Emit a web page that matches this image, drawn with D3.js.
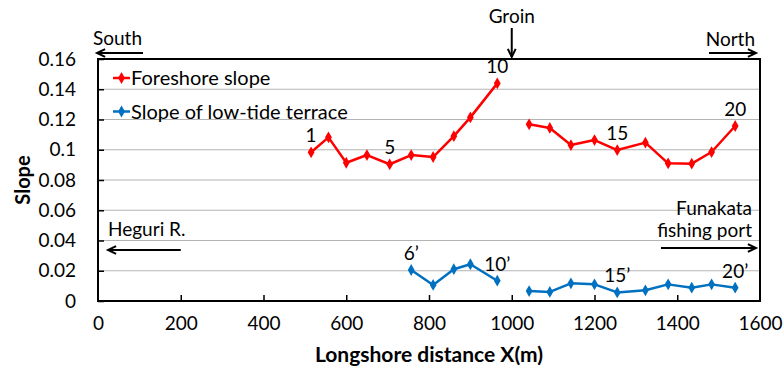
<!DOCTYPE html>
<html>
<head>
<meta charset="utf-8">
<script src="https://cdn.jsdelivr.net/npm/d3@7"></script>
<style>
  html, body { margin: 0; padding: 0; background: #fff; }
  svg { display: block; font-family: Lato, "Open Sans", sans-serif; }
</style>
</head>
<body>
<svg id="chart" width="784" height="370"></svg>
<script>
// Longshore positions of the survey stations (m)
const distance = [515, 557, 600, 650, 705, 757, 810, 860, 900, 965,
                  1042, 1092, 1143, 1200, 1255, 1323, 1378, 1435, 1483, 1540];
// Side of the groin each station lies on (line is broken at the groin)
const reach = [1, 1, 1, 1, 1, 1, 1, 1, 1, 1, 2, 2, 2, 2, 2, 2, 2, 2, 2, 2];
// Foreshore slope at each station
const foreshore = [0.0983, 0.1082, 0.0914, 0.0965, 0.0904, 0.0965, 0.0952, 0.1090, 0.1214, 0.1439,
                   0.1168, 0.1144, 0.1031, 0.1064, 0.0998, 0.1047, 0.0910, 0.0908, 0.0985, 0.1157];
// Slope of the low-tide terrace (not surveyed at stations 1-5)
const terrace = [null, null, null, null, null, 0.0205, 0.0106, 0.0210, 0.0243, 0.0134,
                 0.0066, 0.0060, 0.0117, 0.0110, 0.0057, 0.0071, 0.0110, 0.0088, 0.0110, 0.0088];
// Station numbers printed beside the lines
const foreshoreTags = ["1", "", "", "", "5", "", "", "", "", "10",
                       "", "", "", "", "15", "", "", "", "", "20"];
const terraceTags = ["", "", "", "", "", "6’", "", "", "", "10’",
                     "", "", "", "", "15’", "", "", "", "", "20’"];
// Axis ticks
const xTicks = [0, 200, 400, 600, 800, 1000, 1200, 1400, 1600];
const yTicks = [0, 0.02, 0.04, 0.06, 0.08, 0.1, 0.12, 0.14, 0.16];
const seriesNames = ["Foreshore slope", "Slope of low-tide terrace"];
const seriesColors = ["#FF0000", "#0070C0"];

const svg = d3.select("#chart");
const plotL = 98, plotR = 760, plotT = 59, plotB = 301;

const x = d3.scaleLinear().domain([0, 1600]).range([plotL, plotR]);
const y = d3.scaleLinear().domain([0, 0.16]).range([plotB, plotT]);

// horizontal gridlines
svg.append("g").selectAll("line").data(yTicks.slice(1)).join("line")
  .attr("x1", plotL).attr("x2", plotR)
  .attr("y1", d => y(d)).attr("y2", d => y(d))
  .attr("stroke", "#B4B4B4").attr("stroke-width", 1.2);

// axes with ticks pointing into the plot
const xAxis = svg.append("g").attr("transform", `translate(0,${plotB})`)
  .call(d3.axisBottom(x).tickValues(xTicks).tickSize(-6).tickPadding(16).tickFormat(d3.format("d")));
const yAxis = svg.append("g").attr("transform", `translate(${plotL},0)`)
  .call(d3.axisLeft(y).tickValues(yTicks).tickSize(-6).tickPadding(22).tickFormat(d => d === 0 ? "0" : String(+d.toFixed(2))));
[xAxis, yAxis].forEach(g => {
  g.select(".domain").remove();
  g.selectAll(".tick line").attr("stroke", "#000").attr("stroke-width", 1.5);
  g.selectAll(".tick text").attr("fill", "#000").attr("font-size", 19).attr("font-family", "Lato, sans-serif");
});
xAxis.selectAll(".tick").filter(d => d === 0 || d === 1600).select("line").remove();

// plot frame
svg.append("rect").attr("x", plotL).attr("y", plotT)
  .attr("width", plotR - plotL).attr("height", plotB - plotT)
  .attr("fill", "none").attr("stroke", "#000").attr("stroke-width", 2);

// axis titles
svg.append("text").attr("x", (plotL + plotR) / 2).attr("y", 362)
  .attr("text-anchor", "middle").attr("font-size", 21).attr("font-weight", "bold")
  .text("Longshore distance X(m)");
svg.append("text").attr("transform", `translate(30,${(plotT + plotB) / 2}) rotate(-90)`)
  .attr("text-anchor", "middle").attr("font-size", 20).attr("font-weight", "bold")
  .text("Slope");

const diamond = d3.symbol().type(d3.symbolDiamond).size(40);

function drawSeries(values, color, tags) {
  const rows = distance.map((d, i) => ({ d, v: values[i], r: reach[i], tag: tags[i] }))
    .filter(p => p.v !== null);
  const line = d3.line().x(p => x(p.d)).y(p => y(p.v));
  const g = svg.append("g");
  d3.groups(rows, p => p.r).forEach(([, pts]) => {
    g.append("path").attr("d", line(pts))
      .attr("fill", "none").attr("stroke", color).attr("stroke-width", 2.5)
      .attr("stroke-linejoin", "round");
  });
  g.selectAll("path.mark").data(rows).join("path").attr("class", "mark")
    .attr("transform", p => `translate(${x(p.d)},${y(p.v)})`)
    .attr("d", diamond).attr("fill", color);
  g.selectAll("text").data(rows.filter(p => p.tag)).join("text")
    .attr("x", p => x(p.d)).attr("y", p => y(p.v) - 10)
    .attr("text-anchor", "middle").attr("font-size", 19).attr("fill", "#000")
    .text(p => p.tag);
}
drawSeries(foreshore, seriesColors[0], foreshoreTags);
drawSeries(terrace, seriesColors[1], terraceTags);

// legend
seriesNames.forEach((name, i) => {
  const ly = 78 + i * 33.5;
  const g = svg.append("g");
  g.append("line").attr("x1", 113).attr("x2", 130).attr("y1", ly).attr("y2", ly)
    .attr("stroke", seriesColors[i]).attr("stroke-width", 2.5);
  g.append("path").attr("transform", `translate(121.5,${ly})`).attr("d", diamond).attr("fill", seriesColors[i]);
  g.append("text").attr("x", 131).attr("y", ly + 7).attr("font-size", 20).text(name);
});

// direction arrows and place names
function arrow(x1, y1, x2, y2) {
  const a = Math.atan2(y2 - y1, x2 - x1), h = 9, w = 0.45;
  svg.append("line").attr("x1", x1).attr("y1", y1).attr("x2", x2).attr("y2", y2)
    .attr("stroke", "#000").attr("stroke-width", 2);
  svg.append("path")
    .attr("d", `M${x2 - h * Math.cos(a - w)},${y2 - h * Math.sin(a - w)} L${x2},${y2} L${x2 - h * Math.cos(a + w)},${y2 - h * Math.sin(a + w)}`)
    .attr("fill", "none").attr("stroke", "#000").attr("stroke-width", 2);
}
function label(tx, ty, str, anchor) {
  svg.append("text").attr("x", tx).attr("y", ty).attr("text-anchor", anchor || "start")
    .attr("font-size", 19).text(str);
}

label(x(1000), 23, "Groin", "middle");
arrow(x(1000), 28, x(1000), 57);
label(93, 45, "South");
arrow(143, 53, 97, 53);
label(755, 46, "North", "end");
arrow(709, 53, 756, 53);
label(108, 236, "Heguri R.");
arrow(x(200), 250, 108, 250);
label(752, 215, "Funakata", "end");
label(752, 237, "fishing port", "end");
arrow(661, 248, 756, 248);
</script>
</body>
</html>
